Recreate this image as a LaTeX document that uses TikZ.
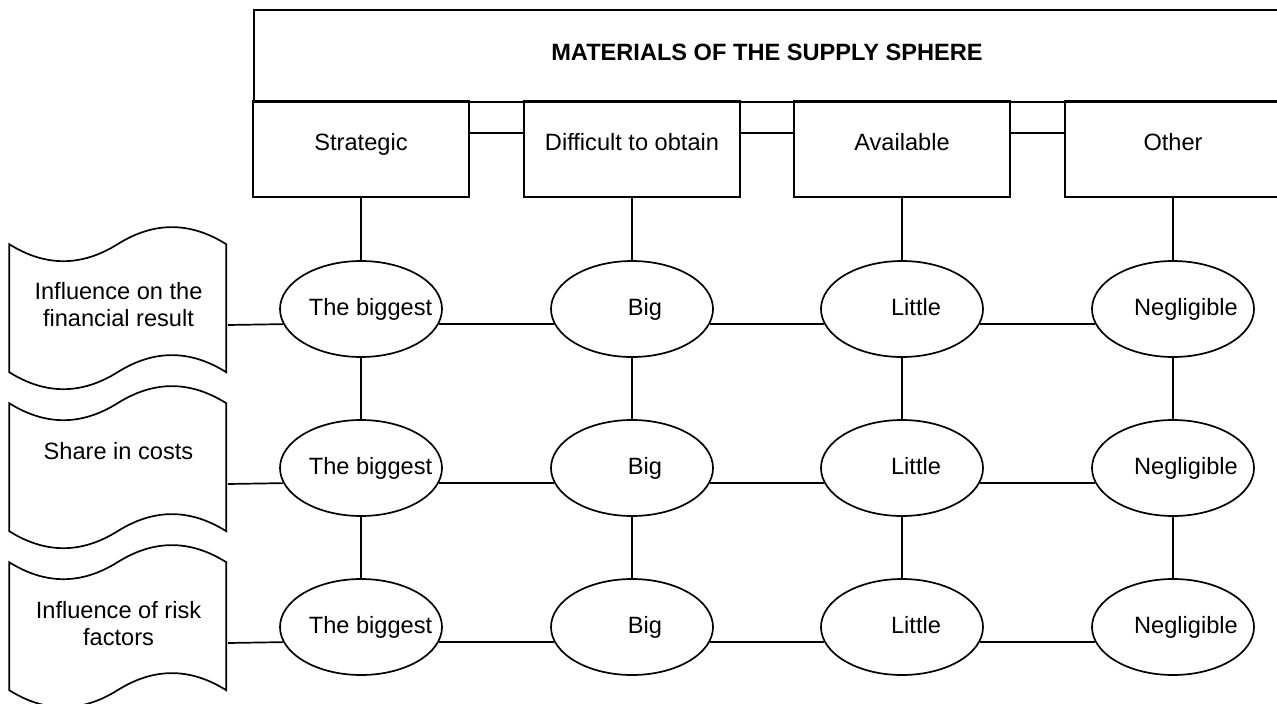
\documentclass[tikz,border=0pt]{standalone}
\usepackage{fontspec}
\setmainfont{Liberation Sans}
\usetikzlibrary{shapes.geometric}
\newcommand\tapeoutline[1]{%
  \draw[shift={(#1.north west)}] (0,0) .. controls (36.2,22.7) and (72.3,22.7) .. (108.5,0)
    .. controls (144.7,-22.7) and (180.8,-22.7) .. (217,0) -- (217,128)
    .. controls (180.8,105.3) and (144.7,105.3) .. (108.5,128)
    .. controls (72.3,150.7) and (36.2,150.7) .. (0,128) -- cycle;}
\begin{document}
\begin{tikzpicture}[x=1pt,y=-1pt,line width=1.7pt,
  font=\fontsize{23.6}{27}\selectfont,
  framebox/.style={draw,rectangle,minimum width=1028pt,minimum height=92pt,inner sep=0pt,anchor=north west},
  catbox/.style={draw,rectangle,minimum width=216pt,minimum height=96pt,inner sep=0pt},
  oval/.style={draw,ellipse,minimum width=162pt,minimum height=96pt,inner sep=0pt},
  tapebox/.style={rectangle,minimum width=217pt,minimum height=128pt,inner sep=0pt},
  lbl/.style={inner sep=0pt,align=center,anchor=base},
  mlbl/.style={inner sep=0pt,align=center}]
\useasboundingbox (0,0) rectangle (1277,704);
\clip (0,0) rectangle (1277,704);

% frame and title
\node[framebox] (frame) at (253,9) {};
\node[lbl,font=\fontsize{23.6}{27}\selectfont\bfseries] (title) at (767,60) {MATERIALS OF THE SUPPLY SPHERE};

% category boxes
\node[catbox] (c1) at (361,149) {};
\node[catbox] (c2) at (632,149) {};
\node[catbox] (c3) at (902,149) {};
\node[catbox] (c4) at (1173,149) {};
\node[lbl] (c1t) at (361,150) {Strategic};
\node[lbl] (c2t) at (632,150) {Difficult to obtain};
\node[lbl] (c3t) at (902,150) {Available};
\node[lbl] (c4t) at (1173,150) {Other};
\draw ([yshift=16pt]c1.east) -- ([yshift=16pt]c2.west);
\draw ([yshift=16pt]c2.east) -- ([yshift=16pt]c3.west);
\draw ([yshift=16pt]c3.east) -- ([yshift=16pt]c4.west);

% ellipses
\foreach \r/\y in {1/309,2/468,3/627}{
  \node[oval] (e\r1) at (361,\y) {};
  \node[oval] (e\r2) at (632,\y) {};
  \node[oval] (e\r3) at (902,\y) {};
  \node[oval] (e\r4) at (1173,\y) {};
  \node[lbl] (t\r1) at (370.5,\y+6.5) {The biggest};
  \node[lbl] (t\r2) at (645,\y+6.5) {Big};
  \node[lbl] (t\r3) at (916,\y+6.5) {Little};
  \node[lbl] (t\r4) at (1186,\y+6.5) {Negligible};
  \draw (e\r1.-11.8) -- (e\r2.191.8);
  \draw (e\r2.-11.8) -- (e\r3.191.8);
  \draw (e\r3.-11.8) -- (e\r4.191.8);
}
\foreach \c in {1,2,3,4}{
  \draw (c\c.south) -- (e1\c.north);
  \draw (e1\c.south) -- (e2\c.north);
  \draw (e2\c.south) -- (e3\c.north);
}

% tape shapes
\node[tapebox] (d1) at (118.5,309) {};
\node[tapebox] (d2) at (118.5,468) {};
\node[tapebox] (d3) at (118.5,627) {};
\tapeoutline{d1}
\tapeoutline{d2}
\tapeoutline{d3}
\node[mlbl] (d1t) at (118.5,305) {Influence on the\\financial result};
\node[lbl] (d2t) at (118.5,459) {Share in costs};
\node[mlbl] (d3t) at (118.5,624) {Influence of risk\\factors};
\draw ([yshift=-16pt]d1.east) -- (e11.191.8);
\draw ([yshift=-16pt]d2.east) -- (e21.191.8);
\draw ([yshift=-16pt]d3.east) -- (e31.191.8);
\end{tikzpicture}
\end{document}
